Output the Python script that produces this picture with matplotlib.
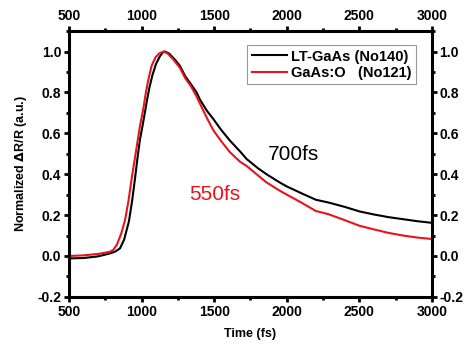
import matplotlib
matplotlib.use('Agg')
import matplotlib.pyplot as plt
from matplotlib.ticker import MultipleLocator

plt.rcParams['font.family'] = ['Liberation Sans', 'DejaVu Sans']
plt.rcParams['font.weight'] = 'bold'
plt.rcParams['axes.unicode_minus'] = False

# LT-GaAs (No140)
t_black = [500, 600, 700, 780, 820, 851, 880, 913, 935, 955, 972, 989, 1005, 1020,
           1037, 1053, 1075, 1100, 1125, 1145, 1160, 1190, 1230, 1264, 1300, 1340,
           1379, 1402, 1450, 1494, 1550, 1609, 1680, 1724, 1800, 1860, 1950, 2000,
           2091, 2200, 2284, 2400, 2500, 2600, 2700, 2800, 2900, 3000]
v_black = [-0.012, -0.01, -0.002, 0.012, 0.022, 0.037, 0.08, 0.17, 0.27, 0.38, 0.48,
           0.57, 0.63, 0.69, 0.76, 0.82, 0.885, 0.94, 0.975, 0.995, 1.0, 0.99, 0.96,
           0.93, 0.88, 0.84, 0.80, 0.765, 0.71, 0.67, 0.615, 0.564, 0.51, 0.474, 0.43,
           0.40, 0.36, 0.34, 0.31, 0.275, 0.262, 0.24, 0.218, 0.203, 0.19, 0.18, 0.17,
           0.162]

# GaAs:O (No121)
t_red = [500, 600, 700, 780, 805, 830, 860, 886, 910, 930, 950, 970, 990, 1012, 1030,
         1046, 1069, 1095, 1120, 1150, 1180, 1220, 1264, 1300, 1340, 1379, 1402, 1450,
         1494, 1550, 1609, 1680, 1724, 1800, 1860, 1950, 2000, 2091, 2200, 2284, 2400,
         2500, 2600, 2700, 2800, 2900, 3000]
v_red = [0.0, 0.003, 0.01, 0.02, 0.03, 0.055, 0.11, 0.175, 0.27, 0.37, 0.46, 0.55,
         0.64, 0.72, 0.80, 0.86, 0.93, 0.97, 0.99, 1.0, 0.99, 0.96, 0.92, 0.87, 0.83,
         0.78, 0.745, 0.675, 0.615, 0.56, 0.507, 0.46, 0.44, 0.395, 0.36, 0.32, 0.30,
         0.265, 0.22, 0.205, 0.175, 0.148, 0.13, 0.113, 0.10, 0.09, 0.083]

fig = plt.figure(figsize=(4.66, 3.53), dpi=100)
ax = fig.add_axes([0.148, 0.159, 0.779, 0.753])

ax.plot(t_black, v_black, color='black', lw=1.5, label='LT-GaAs (No140)')
ax.plot(t_red, v_red, color='#e8131b', lw=1.5, label='GaAs:O   (No121)')

ax.set_xlim(500, 3000)
ax.set_ylim(-0.2, 1.1)
ax.xaxis.set_major_locator(MultipleLocator(500))
ax.xaxis.set_minor_locator(MultipleLocator(250))
ax.yaxis.set_major_locator(MultipleLocator(0.2))
ax.yaxis.set_minor_locator(MultipleLocator(0.1))
ax.tick_params(which='both', direction='out', top=True, right=True,
               labeltop=True, labelright=True, width=2, labelsize=10, pad=2)
ax.tick_params(which='major', length=3.5)
ax.tick_params(which='minor', length=2.5)
ax.set_yticks([-0.2, 0.0, 0.2, 0.4, 0.6, 0.8, 1.0])
for s in ax.spines.values():
    s.set_linewidth(2.2)

ax.set_xlabel('Time (fs)', fontsize=9, fontweight='bold', labelpad=7)
ax.set_ylabel('Normalized $\\Delta$R/R (a.u.)', fontsize=9, fontweight='bold', labelpad=6)

ax.text(1870, 0.494, '700fs', fontsize=15, fontweight='normal', color='black', va='center')
ax.text(1326, 0.30, '550fs', fontsize=15, fontweight='normal', color='#e8131b', va='center')

leg = ax.legend(loc='upper right', fontsize=10.5, frameon=True, fancybox=False,
                edgecolor='gray', handlelength=2.4, handletextpad=0.3, borderpad=0.3,
                labelspacing=0.15, borderaxespad=0, bbox_to_anchor=(0.956, 0.947))
leg.get_frame().set_linewidth(0.8)

fig.savefig('out.png', dpi=100)
